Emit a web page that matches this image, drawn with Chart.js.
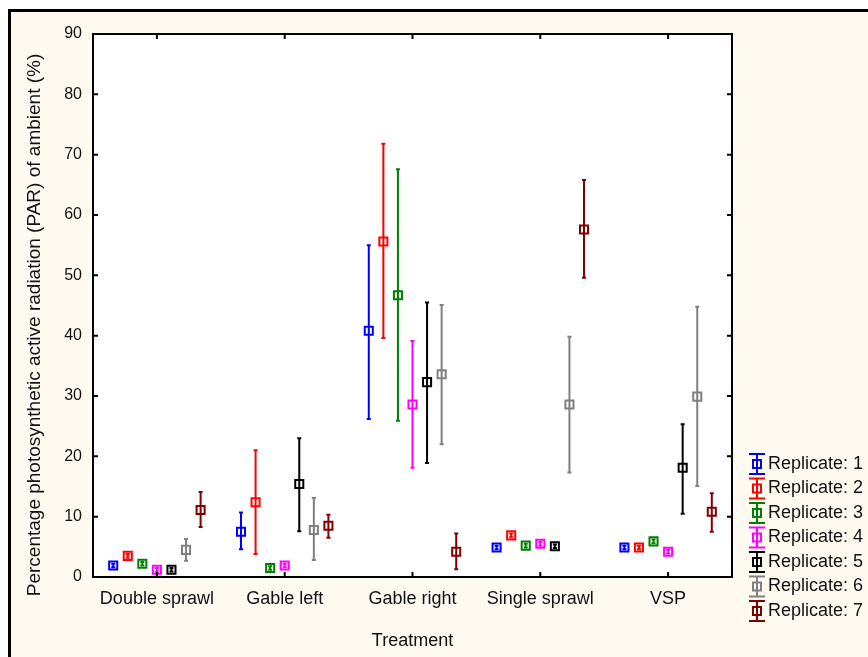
<!DOCTYPE html>
<html>
<head>
<meta charset="utf-8">
<script src="https://cdn.jsdelivr.net/npm/chart.js@4/dist/chart.umd.min.js"></script>
<style>
  html, body { margin: 0; padding: 0; background: #fff; }
  canvas { display: block; }
</style>
</head>
<body>
<canvas id="chart" width="868" height="657"></canvas>
<script>
// Data
const treatments = ['Double sprawl', 'Gable left', 'Gable right', 'Single sprawl', 'VSP'];
const replicates = ['Replicate: 1', 'Replicate: 2', 'Replicate: 3', 'Replicate: 4', 'Replicate: 5', 'Replicate: 6', 'Replicate: 7'];
const yTicks = [0, 10, 20, 30, 40, 50, 60, 70, 80, 90];
const yTitle = 'Percentage photosynthetic active radiation (PAR) of ambient (%)';

// one row per replicate, one column per treatment
const means = [
    [1.9, 7.5, 40.8, 4.9, 4.9],
    [3.5, 12.4, 55.6, 6.9, 4.9],
    [2.2, 1.5, 46.7, 5.2, 5.9],
    [1.2, 1.9, 28.6, 5.5, 4.2],
    [1.2, 15.4, 32.3, 5.1, 18.1],
    [4.5, 7.8, 33.6, 28.6, 29.9],
    [11.1, 8.5, 4.2, 57.6, 10.8]
];
const upper = [
    [2.2, 10.7, 55.0, 5.2, 5.2],
    [3.8, 21.0, 71.8, 7.2, 5.2],
    [2.5, 1.8, 67.6, 5.5, 6.2],
    [1.5, 2.2, 39.1, 5.8, 4.5],
    [1.5, 23.0, 45.5, 5.4, 25.3],
    [6.3, 13.1, 45.1, 39.8, 44.8],
    [14.1, 10.3, 7.2, 65.8, 13.9]
];
const lower = [
    [1.6, 4.6, 26.2, 4.6, 4.6],
    [3.2, 3.8, 39.6, 6.6, 4.6],
    [1.9, 1.2, 25.9, 4.9, 5.6],
    [0.9, 1.6, 18.1, 5.2, 3.9],
    [0.9, 7.6, 18.9, 4.8, 10.5],
    [2.7, 2.8, 22.0, 17.3, 15.1],
    [8.3, 6.5, 1.3, 49.6, 7.5]
];

const colors = ['#0000ff', '#ff0000', '#008000', '#ff00ff', '#000000', '#808080', '#800000'];
const fontFamily = "'Liberation Sans', Arial, sans-serif";
const spread = 0.114; // offset between replicates inside a treatment

function xPos(t, r) {
    return t + (r - 3) * spread;
}

// Page background, outer frame and white plot area
const backgroundPlugin = {
    id: 'background',
    beforeDraw(chart) {
        const ctx = chart.ctx;
        const a = chart.chartArea;
        ctx.save();
        ctx.fillStyle = '#ffffff';
        ctx.fillRect(0, 0, chart.width, chart.height);
        ctx.fillStyle = '#fffaf0';
        ctx.fillRect(8, 9, chart.width - 8, chart.height - 9);
        ctx.fillStyle = '#000000';
        ctx.fillRect(8, 9, chart.width - 8, 3);
        ctx.fillRect(8, 9, 3, chart.height - 9);
        ctx.fillStyle = '#ffffff';
        ctx.fillRect(a.left, a.top, a.right - a.left, a.bottom - a.top);
        ctx.restore();
    }
};

// Vertical error bars with small caps
const errorBarPlugin = {
    id: 'errorBars',
    afterDatasetsDraw(chart) {
        const ctx = chart.ctx;
        const xs = chart.scales.x;
        const ys = chart.scales.y;
        ctx.save();
        ctx.lineWidth = 2;
        replicates.forEach((rep, r) => {
            ctx.strokeStyle = colors[r];
            treatments.forEach((t, i) => {
                const x = xs.getPixelForValue(xPos(i, r));
                const yTop = ys.getPixelForValue(upper[r][i]);
                const yBot = ys.getPixelForValue(lower[r][i]);
                ctx.beginPath();
                ctx.moveTo(x, yTop);
                ctx.lineTo(x, yBot);
                ctx.moveTo(x - 2, yTop);
                ctx.lineTo(x + 2, yTop);
                ctx.moveTo(x - 2, yBot);
                ctx.lineTo(x + 2, yBot);
                ctx.stroke();
            });
        });
        ctx.restore();
    }
};

// Plot box, inward tick marks, y title and the legend
const framePlugin = {
    id: 'frame',
    afterDraw(chart) {
        const ctx = chart.ctx;
        const a = chart.chartArea;
        const xs = chart.scales.x;
        const ys = chart.scales.y;
        ctx.save();
        ctx.strokeStyle = '#000000';
        ctx.lineWidth = 2;
        ctx.strokeRect(a.left, a.top, a.right - a.left, a.bottom - a.top);

        ctx.beginPath();
        yTicks.forEach(v => {
            const y = ys.getPixelForValue(v);
            ctx.moveTo(a.left, y);
            ctx.lineTo(a.left + 5, y);
            ctx.moveTo(a.right, y);
            ctx.lineTo(a.right - 5, y);
        });
        treatments.forEach((t, i) => {
            const x = xs.getPixelForValue(i);
            ctx.moveTo(x, a.bottom);
            ctx.lineTo(x, a.bottom - 5);
            ctx.moveTo(x, a.top);
            ctx.lineTo(x, a.top + 5);
        });
        ctx.stroke();

        // y axis title, sits a little below the plot's centre like the original
        ctx.save();
        ctx.translate(35, 325);
        ctx.rotate(-Math.PI / 2);
        ctx.font = '19px ' + fontFamily;
        ctx.fillStyle = '#111111';
        ctx.textAlign = 'center';
        ctx.textBaseline = 'middle';
        ctx.fillText(yTitle, 0, 0);
        ctx.restore();

        // legend
        const lx = 757;
        const ly = 464;
        const step = 24.5;
        ctx.font = '18px ' + fontFamily;
        ctx.textBaseline = 'middle';
        ctx.textAlign = 'left';
        replicates.forEach((rep, r) => {
            const y = ly + r * step;
            ctx.strokeStyle = colors[r];
            ctx.lineWidth = 2;
            ctx.fillStyle = '#ffffff';
            ctx.fillRect(lx - 4, y - 4, 8, 8);
            ctx.strokeRect(lx - 4, y - 4, 8, 8);
            ctx.beginPath();
            ctx.moveTo(lx, y - 10);
            ctx.lineTo(lx, y + 10);
            ctx.moveTo(lx - 8, y - 10);
            ctx.lineTo(lx + 8, y - 10);
            ctx.moveTo(lx - 8, y + 10);
            ctx.lineTo(lx + 8, y + 10);
            ctx.stroke();
            ctx.fillStyle = '#111111';
            ctx.fillText(rep, 768, y);
        });
        ctx.restore();
    }
};

const datasets = replicates.map((rep, r) => ({
    label: rep,
    data: treatments.map((t, i) => ({ x: xPos(i, r), y: means[r][i] })),
    pointStyle: 'rect',
    pointRadius: 5.7,
    pointHoverRadius: 5.7,
    borderWidth: 2,
    borderColor: colors[r],
    backgroundColor: '#ffffff',
    showLine: false
}));

new Chart(document.getElementById('chart'), {
    type: 'scatter',
    data: { datasets: datasets },
    options: {
        responsive: false,
        animation: false,
        events: [],
        layout: { padding: { top: 34, right: 136, left: 0, bottom: 0 } },
        plugins: {
            legend: { display: false },
            tooltip: { enabled: false }
        },
        scales: {
            x: {
                type: 'linear',
                min: -0.5,
                max: 4.5,
                afterBuildTicks: scale => {
                    scale.ticks = treatments.map((t, i) => ({ value: i }));
                },
                afterFit: scale => { scale.height = 80; },
                grid: { display: false, drawTicks: false },
                border: { display: false },
                ticks: {
                    autoSkip: false,
                    maxRotation: 0,
                    padding: 11,
                    color: '#111111',
                    font: { family: fontFamily, size: 18 },
                    callback: value => treatments[Math.round(value)]
                },
                title: {
                    display: true,
                    text: 'Treatment',
                    color: '#111111',
                    font: { family: fontFamily, size: 18 },
                    padding: { top: 0, bottom: 5 }
                }
            },
            y: {
                min: 0,
                max: 90,
                afterBuildTicks: scale => {
                    scale.ticks = yTicks.map(v => ({ value: v }));
                },
                afterFit: scale => { scale.width = 93; },
                grid: { display: false, drawTicks: false },
                border: { display: false },
                ticks: {
                    padding: 11,
                    color: '#111111',
                    font: { family: fontFamily, size: 16 }
                }
            }
        }
    },
    plugins: [backgroundPlugin, errorBarPlugin, framePlugin]
});
</script>
</body>
</html>
